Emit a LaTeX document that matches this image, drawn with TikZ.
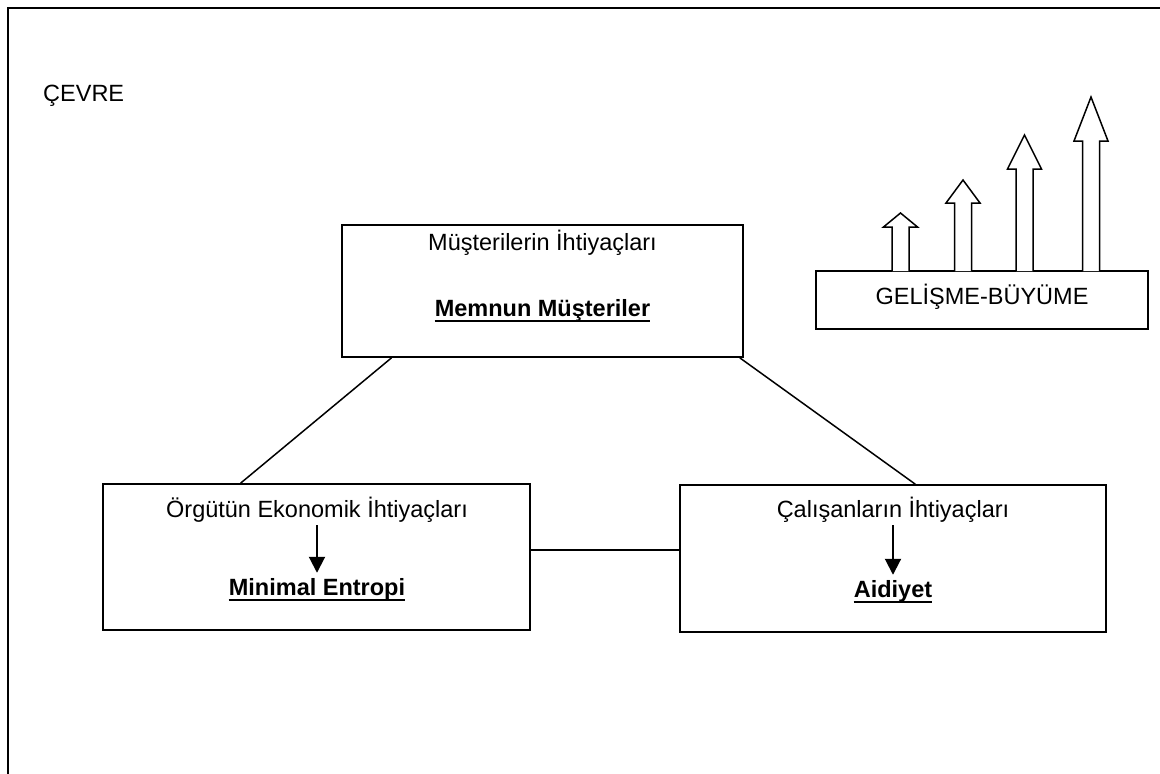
\documentclass[tikz,border=0pt]{standalone}
\usepackage{fontspec}
\setmainfont{Liberation Sans}
\usetikzlibrary{arrows.meta,calc}
\begin{document}
\begin{tikzpicture}[x=1pt,y=-1pt,
  kutu/.style={draw,line width=1.7pt,inner sep=0pt},
  yazi/.style={inner sep=0pt,anchor=base,font=\fontsize{23.5}{28}\selectfont},
  kalin/.style={yazi,font=\fontsize{23.5}{28}\selectfont\bfseries},
  cizgi/.style={line width=1.5pt},
  ok/.style={line width=2pt,-{Triangle[width=16pt,length=16pt]}},
  blok/.style={draw,line width=1.5pt,fill=white,line join=miter}]
\useasboundingbox (0,0) rectangle (1160,774);
\draw[line width=2.2pt] (8,774) -- (8,8) -- (1160,8);
\node[yazi,anchor=base west] (cevre) at (43,101) {ÇEVRE};

\node[kutu,minimum width=401pt,minimum height=132pt] (musteri) at (542.5,291) {};
\node[kutu,minimum width=427pt,minimum height=146pt] (ekonomi) at (316.5,557) {};
\node[kutu,minimum width=426pt,minimum height=147pt] (calisan) at (893,558.5) {};
\node[kutu,minimum width=332pt,minimum height=58pt] (gelisme) at (982,300) {};

\node[yazi] (mihtiyac) at (542.5,250) {Müşterilerin İhtiyaçları};
\node[kalin] (memnun) at (542.5,316) {Memnun Müşteriler};
\node[yazi] (eihtiyac) at (317,517) {Örgütün Ekonomik İhtiyaçları};
\node[kalin] (entropi) at (317,595) {Minimal Entropi};
\node[yazi] (cihtiyac) at (893,517) {Çalışanların İhtiyaçları};
\node[kalin] (aidiyet) at (893,597) {Aidiyet};
\node[yazi] (buyume) at (982,304) {GELİŞME-BÜYÜME};

\foreach \n in {memnun,entropi,aidiyet}
  \draw[line width=1.8pt] ([yshift=-5pt]\n.base west) -- ([yshift=-5pt]\n.base east);

\draw[ok,shorten <=3pt,shorten >=5pt] (eihtiyac.south) -- (entropi.north);
\draw[ok,shorten <=3pt,shorten >=5pt] (cihtiyac.south) -- (aidiyet.north);

\draw[cizgi] ($(musteri.south west)!0.125!(musteri.south east)$) -- ($(ekonomi.north west)!0.323!(ekonomi.north east)$);
\draw[cizgi] ($(musteri.south west)!0.99!(musteri.south east)$) -- ($(calisan.north west)!0.552!(calisan.north east)$);
\draw[cizgi] ([yshift=7pt]ekonomi.east) -- ([yshift=7pt]ekonomi.east -| calisan.west);

\foreach \x/\t/\b in {900.5/213/227, 963/180/203, 1024.5/135/169, 1091/97/141}
  \draw[blok] (\x-8.5,271) -- (\x-8.5,\b) -- (\x-17,\b) -- (\x,\t)
    -- (\x+17,\b) -- (\x+8.5,\b) -- (\x+8.5,271);
\end{tikzpicture}
\end{document}
